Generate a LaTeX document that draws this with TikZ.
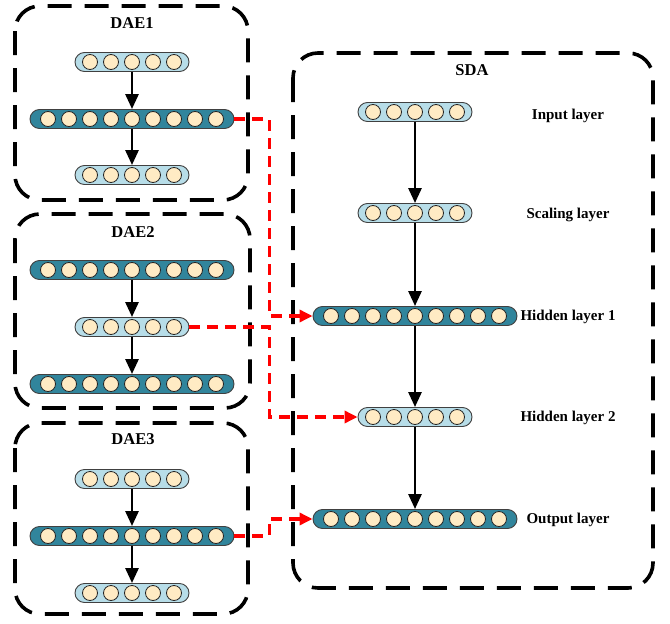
\documentclass[tikz,border=0pt]{standalone}
\usepackage{fontspec}
\setmainfont{Liberation Serif}
\usetikzlibrary{arrows.meta,shapes.misc,calc}
\definecolor{barlight}{HTML}{B7DDE8}
\definecolor{bardark}{HTML}{31859C}
\definecolor{unitfill}{HTML}{FFEBC4}

\begin{document}
\begin{tikzpicture}[x=1pt,y=-1pt,
        bar/.style={rounded rectangle,draw=black!75,line width=0.9pt,minimum height=19pt,inner sep=0pt},
        small/.style={bar,fill=barlight,minimum width=114pt},
        big/.style={bar,fill=bardark,minimum width=204pt},
        unit/.style={circle,draw=black!85,fill=unitfill,line width=0.8pt,minimum size=15pt,inner sep=0pt},
        group/.style={line width=3.6pt,dash pattern=on 24pt off 13pt,rounded corners=25pt},
        title/.style={font=\fontsize{16.5}{20}\selectfont\bfseries},
        tag/.style={font=\fontsize{15}{18}\selectfont\bfseries},
        flow/.style={line width=2.7pt,-{Triangle[length=15pt,width=13pt]}},
        link/.style={red,line width=3.6pt,dash pattern=on 11pt off 7pt,-{Triangle[length=13pt,width=12pt]}}]

    \useasboundingbox (0,0) rectangle (670,624);

    % dashed groups
    \draw[group] (15,6) rectangle (248,200);
    \draw[group] (15,214) rectangle (250,408);
    \draw[group] (15,423) rectangle (248,614);
    \draw[group] (293,53) rectangle (653,588);

    \node[title] (t1) at (132,23) {DAE1};
    \node[title] (t2) at (133,232) {DAE2};
    \node[title] (t3) at (133,439) {DAE3};
    \node[title] (t4) at (472,70) {SDA};

    % DAE1
    \node[small] (a1) at (132,62) {};
    \node[big] (a2) at (132,119) {};
    \node[small] (a3) at (132,175) {};
    % DAE2
    \node[big] (b1) at (132,270) {};
    \node[small] (b2) at (132,327) {};
    \node[big] (b3) at (132,384) {};
    % DAE3
    \node[small] (c1) at (132,479) {};
    \node[big] (c2) at (132,536) {};
    \node[small] (c3) at (132,593) {};
    % SDA
    \node[small] (s1) at (415,112) {};
    \node[small] (s2) at (415,213) {};
    \node[big] (s3) at (415,316) {};
    \node[small] (s4) at (415,417) {};
    \node[big] (s5) at (415,519) {};

    \foreach \bar/\n in {a1/2,a2/4,a3/2,b1/4,b2/2,b3/4,c1/2,c2/4,c3/2,s1/2,s2/2,s3/4,s4/2,s5/4}
        \foreach \i in {-\n,...,\n}
            \node[unit] (\bar-\i) at ($(\bar)+(\i*21,0)$) {};

    \node[tag] (l1) at (568,116) {Input layer};
    \node[tag] (l2) at (568,215) {Scaling layer};
    \node[tag] (l3) at (568,317) {Hidden layer 1};
    \node[tag] (l4) at (568,418) {Hidden layer 2};
    \node[tag] (l5) at (568,520) {Output layer};

    \draw[flow] (a1) -- (a2);
    \draw[flow] (a2) -- (a3);
    \draw[flow] (b1) -- (b2);
    \draw[flow] (b2) -- (b3);
    \draw[flow] (c1) -- (c2);
    \draw[flow] (c2) -- (c3);
    \draw[flow] (s1) -- (s2);
    \draw[flow] (s2) -- (s3);
    \draw[flow] (s3) -- (s4);
    \draw[flow] (s4) -- (s5);

    % pretrained layers into the SDA
    \draw[link] (a2.east) -- ++(35,0) |- (s3.west);
    \draw[link] (b2.east) -- ++(80,0) |- (s4.west);
    \draw[link] (c2.east) -- ++(35,0) |- (s5.west);
    \end{tikzpicture}
\end{document}
